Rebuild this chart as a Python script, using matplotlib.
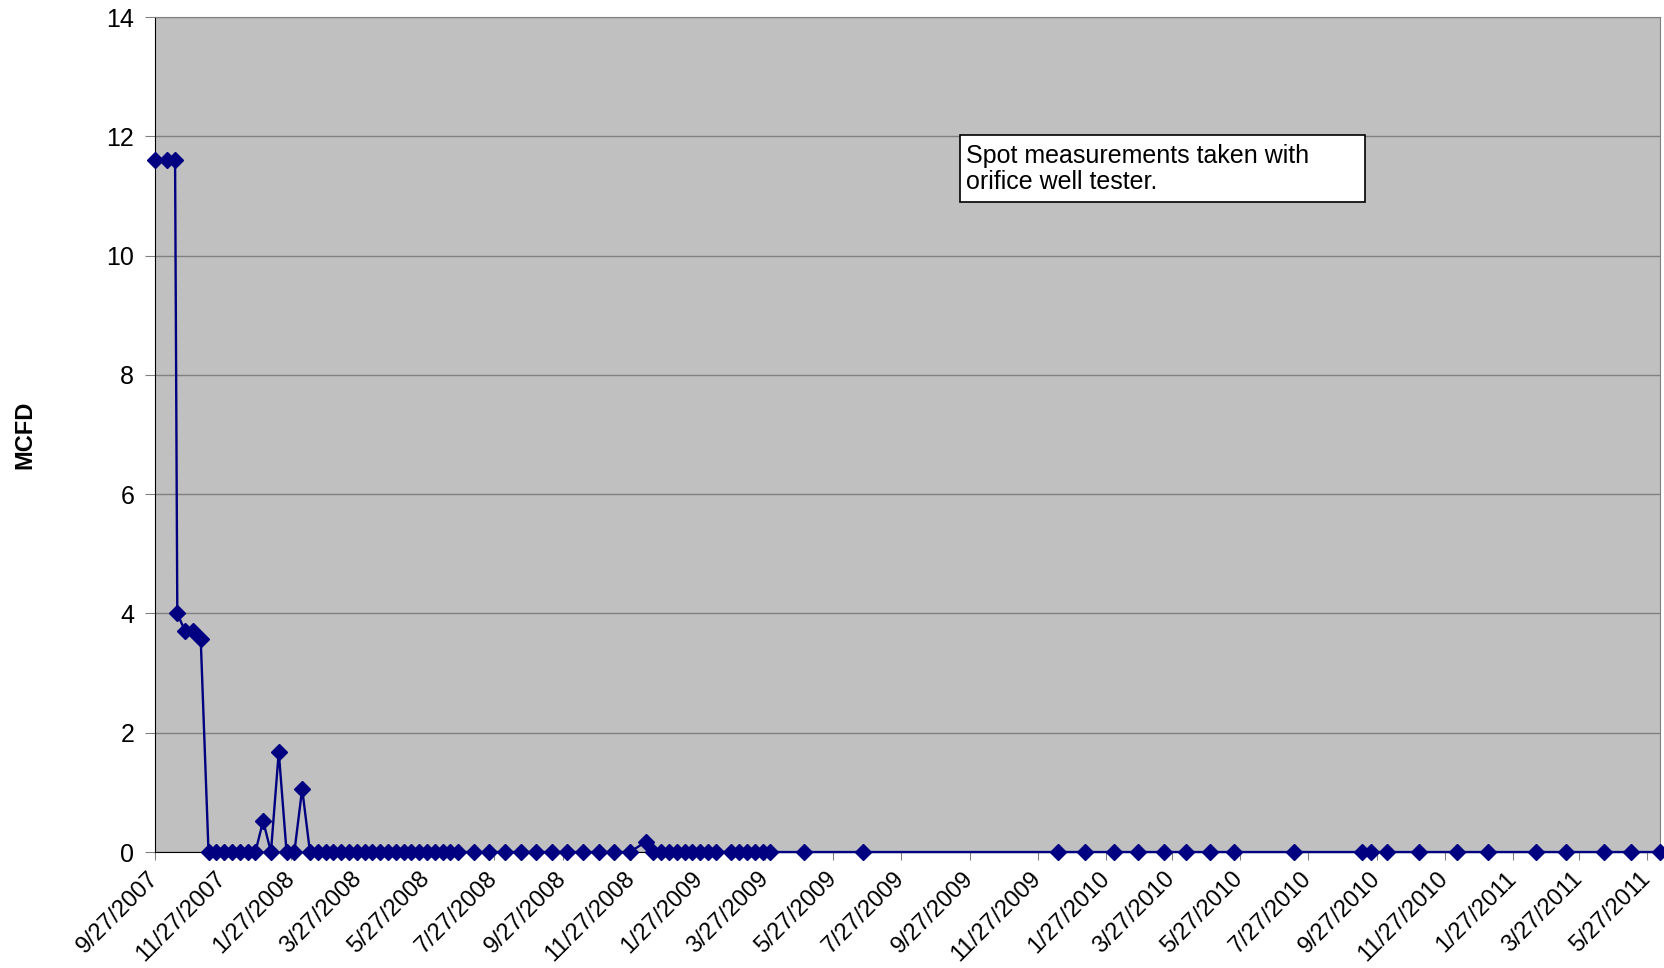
import matplotlib
matplotlib.use("Agg")
import matplotlib.pyplot as plt
import matplotlib.dates as mdates
import matplotlib.patches as patches
from matplotlib.ticker import FuncFormatter
import pandas as pd

plt.rcParams['font.family'] = ['Liberation Sans', 'DejaVu Sans']

# fechas de medicion y caudal (MCFD)
fechas = [
    "2007-09-27", "2007-10-08", "2007-10-15", "2007-10-17", "2007-10-24", "2007-10-31",
    "2007-11-07", "2007-11-14", "2007-11-21", "2007-11-28", "2007-12-05", "2007-12-12",
    "2007-12-19", "2007-12-26", "2008-01-02", "2008-01-09", "2008-01-16", "2008-01-23",
    "2008-01-30", "2008-02-06", "2008-02-13", "2008-02-20", "2008-02-27", "2008-03-05",
    "2008-03-12", "2008-03-19", "2008-03-26", "2008-04-02", "2008-04-09", "2008-04-16",
    "2008-04-23", "2008-04-30", "2008-05-07", "2008-05-14", "2008-05-21", "2008-05-28",
    "2008-06-04", "2008-06-11", "2008-06-18", "2008-06-25", "2008-07-09", "2008-07-23",
    "2008-08-06", "2008-08-20", "2008-09-03", "2008-09-17", "2008-10-01", "2008-10-15",
    "2008-10-29", "2008-11-12", "2008-11-26", "2008-12-10", "2008-12-17", "2008-12-24",
    "2008-12-31", "2009-01-07", "2009-01-14", "2009-01-21", "2009-01-28", "2009-02-04",
    "2009-02-11", "2009-02-25", "2009-03-04", "2009-03-11", "2009-03-18", "2009-03-25",
    "2009-04-01", "2009-05-01", "2009-06-23", "2009-12-15", "2010-01-08", "2010-02-03",
    "2010-02-25", "2010-03-20", "2010-04-09", "2010-04-30", "2010-05-22", "2010-07-15",
    "2010-09-14", "2010-09-22", "2010-10-06", "2010-11-04", "2010-12-08", "2011-01-05",
    "2011-02-17", "2011-03-16", "2011-04-19", "2011-05-13", "2011-06-08",
]
mcfd = [
    11.6, 11.6, 11.6, 4.0, 3.7, 3.7,
    3.57, 0, 0, 0, 0, 0,
    0, 0, 0.52, 0, 1.68, 0,
    0, 1.06, 0, 0, 0, 0,
    0, 0, 0, 0, 0, 0,
    0, 0, 0, 0, 0, 0,
    0, 0, 0, 0, 0, 0,
    0, 0, 0, 0, 0, 0,
    0, 0, 0, 0.17, 0, 0,
    0, 0, 0, 0, 0, 0,
    0, 0, 0, 0, 0, 0,
    0, 0, 0, 0, 0, 0,
    0, 0, 0, 0, 0, 0,
    0, 0, 0, 0, 0, 0,
    0, 0, 0, 0, 0,
]
nota = "Spot measurements taken with\norifice well tester."

x = pd.to_datetime(fechas)

fig = plt.figure(figsize=(16.65, 9.68), dpi=100)
ax = fig.add_axes([0.0931, 0.1198, 0.9039, 0.8626])
ax.set_facecolor('#C0C0C0')

ax.plot(x, mcfd, color='#000080', linewidth=1.7, marker='D', markersize=8,
        markerfacecolor='#000080', markeredgecolor='#000080', zorder=3, clip_on=False)

ax.set_ylim(0, 14)
ax.set_yticks(range(0, 15, 2))
ax.set_xlim(x[0], x[-1])

# ticks cada dos meses, el dia 27
ax.xaxis.set_major_locator(mdates.MonthLocator(bymonth=[1, 3, 5, 7, 9, 11], bymonthday=27))
ax.xaxis.set_major_formatter(FuncFormatter(
    lambda v, pos: (lambda d: f"{d.month}/{d.day}/{d.year}")(mdates.num2date(v))))

ax.grid(axis='y', color='#808080', linewidth=1.0)
ax.set_axisbelow(True)
ax.tick_params(axis='x', labelsize=17, length=6, color='#808080', pad=11)
ax.tick_params(axis='y', labelsize=18, length=7, color='#808080', pad=8)
for lab in ax.get_xticklabels():
    lab.set_rotation(45)
    lab.set_ha('right')
    lab.set_va('center')
    lab.set_rotation_mode('anchor')

ax.spines['left'].set_color('black')
ax.spines['bottom'].set_color('black')
ax.spines['top'].set_color('#808080')
ax.spines['right'].set_color('#808080')

ax.set_ylabel('MCFD', fontsize=17, fontweight='bold')
ax.yaxis.set_label_coords(-0.079, 0.5)

# cuadro de texto
rect = patches.Rectangle((0.535, 0.778), 0.269, 0.081, transform=ax.transAxes,
                         facecolor='white', edgecolor='black', linewidth=1.2, zorder=4)
ax.add_patch(rect)
ax.text(0.539, 0.8185, nota, transform=ax.transAxes, fontsize=18, ha='left',
        va='center', linespacing=1.1, zorder=5)

fig.savefig('out.png', dpi=100)
